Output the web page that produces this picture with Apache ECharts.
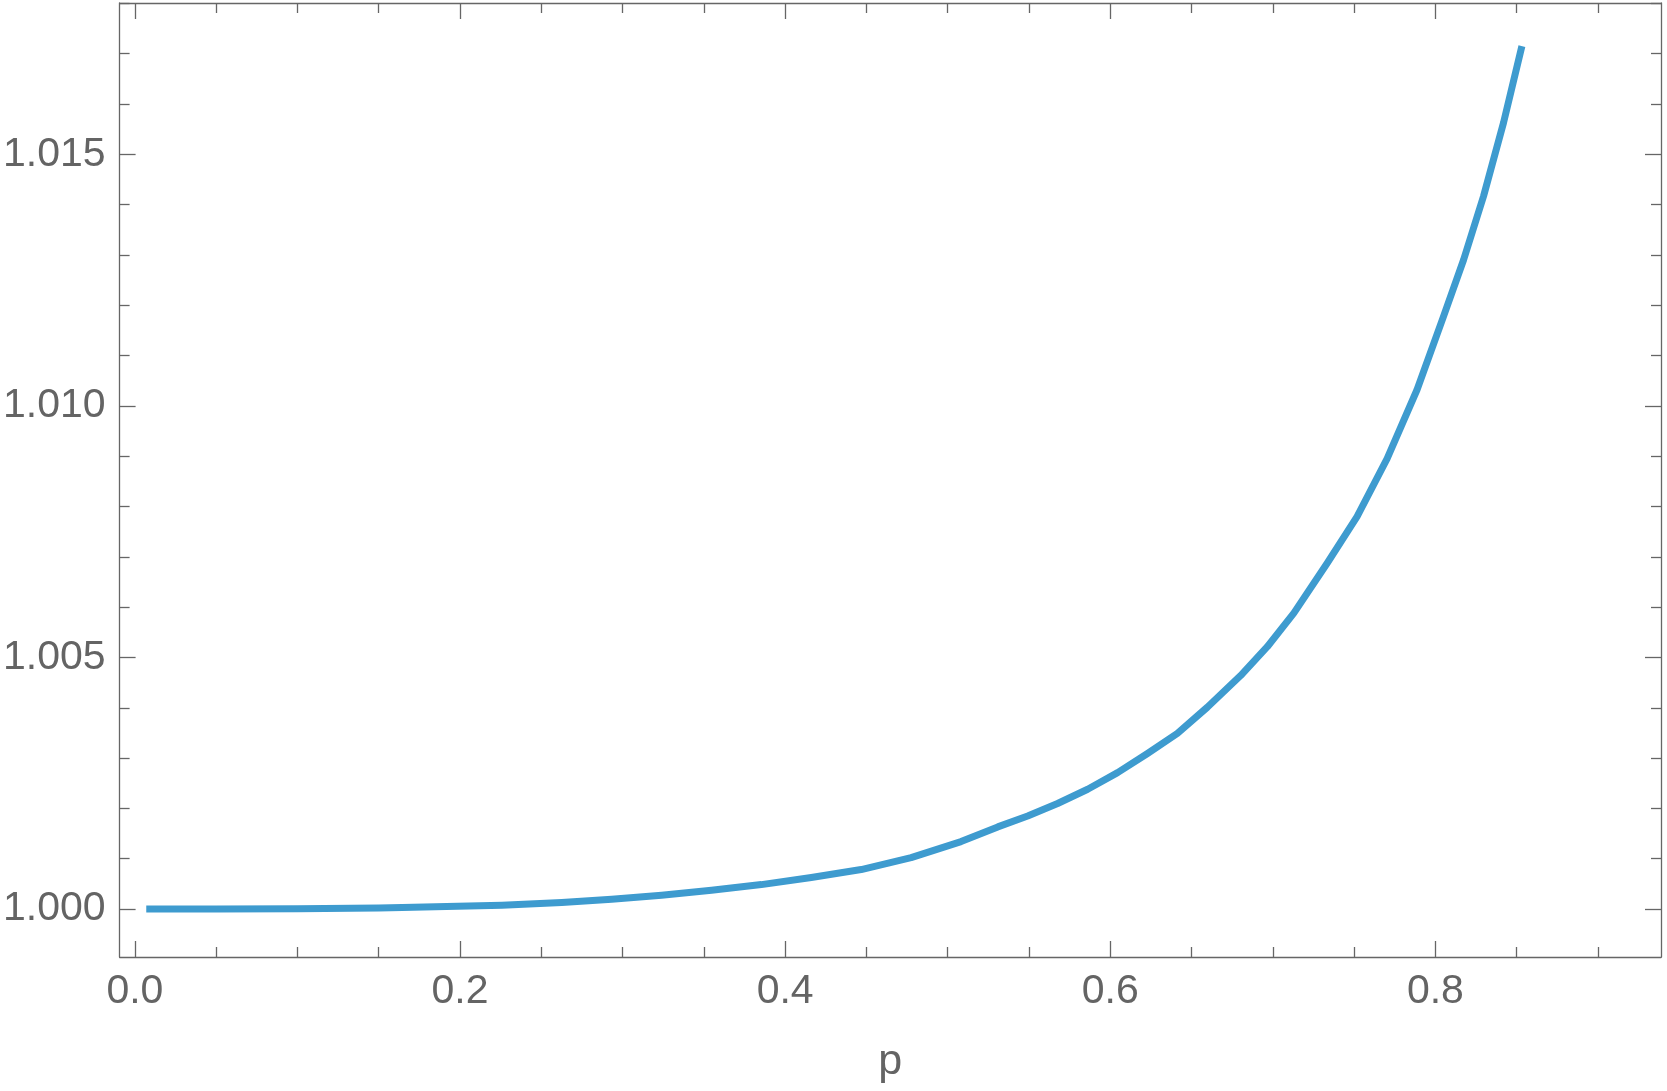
<!DOCTYPE html>
<html>
<head>
<meta charset="utf-8">
<script src="https://cdn.jsdelivr.net/npm/echarts@6/dist/echarts.min.js"></script>
<style>
html,body{margin:0;padding:0;background:#fff;}
#chart{width:1667px;height:1091px;}
</style>
</head>
<body>
<div id="chart"></div>
<script>
// Curve readings (p, value)
const pValues = [0.007, 0.05, 0.10, 0.15, 0.1644, 0.2258, 0.2626, 0.2933, 0.3240, 0.3547, 0.3854, 0.4161, 0.4468, 0.4775, 0.5082, 0.5308, 0.5492, 0.5676, 0.5861, 0.6045, 0.6229, 0.6413, 0.6597, 0.6802, 0.6966, 0.7129, 0.7334, 0.7518, 0.7703, 0.7887, 0.8050, 0.8173, 0.8296, 0.8419, 0.8532];
const fValues = [1.000000, 1.000001, 1.000005, 1.000018, 1.000028, 1.000074, 1.000127, 1.000193, 1.000273, 1.000372, 1.000485, 1.000625, 1.000784, 1.001020, 1.001340, 1.001632, 1.001847, 1.002097, 1.002380, 1.002710, 1.003092, 1.003490, 1.004010, 1.004640, 1.005213, 1.005880, 1.006873, 1.007800, 1.008950, 1.010321, 1.011779, 1.012900, 1.014167, 1.015627, 1.017151];

const xMajorTicks = [0.0, 0.2, 0.4, 0.6, 0.8];
const xMinorTicks = [0.05, 0.1, 0.15, 0.25, 0.3, 0.35, 0.45, 0.5, 0.55, 0.65, 0.7, 0.75, 0.85, 0.9];
const yMajorTicks = [1.000, 1.005, 1.010, 1.015];
const yMinorTicks = [0.999, 1.001, 1.002, 1.003, 1.004, 1.006, 1.007, 1.008, 1.009, 1.011, 1.012, 1.013, 1.014, 1.016, 1.017, 1.018];
const xName = 'p';

const X_MIN = -0.0094, X_MAX = 0.93877;
const Y_MIN = 0.999046, Y_MAX = 1.018008;

const frameColor = '#666666';
const textColor = '#646464';
const fontFamily = "'Liberation Sans', Arial, sans-serif";

function xAx(pos, ticks, len, showLine, showLabels) {
  return {
    type: 'value', position: pos, min: X_MIN, max: X_MAX,
    axisLine: { show: showLine, onZero: false, lineStyle: { color: frameColor, width: 1.3 } },
    axisTick: { show: true, inside: true, length: len, customValues: ticks, lineStyle: { color: frameColor, width: 1.3 } },
    axisLabel: showLabels ? {
      show: true, customValues: ticks, margin: 14,
      formatter: v => Number(v).toFixed(1),
      color: textColor, fontSize: 41, fontFamily: fontFamily
    } : { show: false, customValues: ticks },
    splitLine: { show: false }
  };
}
function yAx(pos, ticks, len, showLine, showLabels) {
  return {
    type: 'value', position: pos, min: Y_MIN, max: Y_MAX, scale: true,
    axisLine: { show: showLine, onZero: false, lineStyle: { color: frameColor, width: 1.3 } },
    axisTick: { show: true, inside: true, length: len, customValues: ticks, lineStyle: { color: frameColor, width: 1.3 } },
    axisLabel: showLabels ? {
      show: true, customValues: ticks, margin: 14,
      formatter: v => Number(v).toFixed(3),
      color: textColor, fontSize: 41, fontFamily: fontFamily
    } : { show: false, customValues: ticks },
    splitLine: { show: false }
  };
}

const xAxes = [
  xAx('bottom', xMajorTicks, 16, true, true),
  xAx('bottom', xMinorTicks, 10, false, false),
  xAx('top', xMajorTicks, 16, true, false),
  xAx('top', xMinorTicks, 10, false, false)
];
Object.assign(xAxes[0], {
  name: xName, nameLocation: 'middle', nameGap: 84,
  nameTextStyle: { color: textColor, fontSize: 43, fontFamily: fontFamily }
});
const yAxes = [
  yAx('left', yMajorTicks, 16, true, true),
  yAx('left', yMinorTicks, 10, false, false),
  yAx('right', yMajorTicks, 16, true, false),
  yAx('right', yMinorTicks, 10, false, false)
];

const chart = echarts.init(document.getElementById('chart'), null, { renderer: 'canvas' });
chart.setOption({
  animation: false,
  backgroundColor: '#ffffff',
  grid: { left: 117, right: 6, top: 3, bottom: 134, containLabel: false },
  xAxis: xAxes,
  yAxis: yAxes,
  series: [{
    type: 'line',
    xAxisIndex: 0, yAxisIndex: 0,
    data: pValues.map((p, i) => [p, fValues[i]]),
    showSymbol: false,
    smooth: false,
    lineStyle: { color: '#3e9bcf', width: 7, cap: 'butt', join: 'round' },
    clip: false
  }]
});
</script>
</body>
</html>
